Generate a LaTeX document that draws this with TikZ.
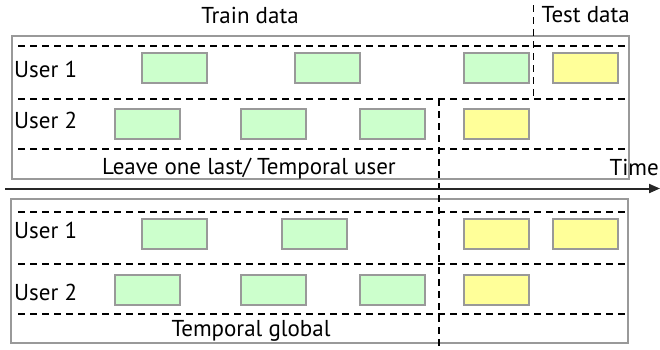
\documentclass[tikz,border=0pt]{standalone}
\usepackage{fontspec}
\setmainfont{PT Sans}
\usetikzlibrary{arrows.meta}
\definecolor{boxgreen}{HTML}{CCFFCC}
\definecolor{boxyellow}{HTML}{FFFF99}
\definecolor{edgegray}{HTML}{999999}
\begin{document}
\begin{tikzpicture}[x=1pt,y=-1pt,
  trainbox/.style={draw=edgegray,line width=1.2pt,fill=boxgreen,minimum width=65pt,minimum height=30pt,inner sep=0pt},
  testbox/.style={trainbox,fill=boxyellow},
  panel/.style={draw=edgegray,line width=1.2pt},
  rowsep/.style={dashed,dash pattern=on 7pt off 5pt,line width=1.3pt},
  txt/.style={inner sep=0pt,font=\fontsize{23}{27}\selectfont},
]
\useasboundingbox (0,0) rectangle (660,349);
% panels
\draw[panel] (12,36) rectangle (629,179);
\draw[panel] (11,199) rectangle (628,343);
% row separators
\foreach \yy in {46,99,149} \draw[rowsep] (18,\yy) -- (629,\yy);
\foreach \yy in {212,264,314} \draw[rowsep] (18,\yy) -- (628,\yy);
% vertical splits
\draw[rowsep] (533.5,5) -- (533.5,99);
\draw[rowsep] (439,99) -- (439,349);
% time arrow
\coordinate (tstart) at (5,188.5);
\coordinate (tend) at (660,188.5);
\draw[line width=2pt,draw=black!85,-{Triangle[length=11pt,width=9pt]}] (tstart) -- (tend);
% top panel boxes
\node[trainbox] (a1) at (174.5,68) {};
\node[trainbox] (a2) at (327.5,68) {};
\node[trainbox] (a3) at (496.5,68) {};
\node[testbox]  (a4) at (585.5,68) {};
\node[trainbox] (b1) at (147.5,124) {};
\node[trainbox] (b2) at (273.5,124) {};
\node[trainbox] (b3) at (392.5,124) {};
\node[testbox]  (b4) at (496.5,124) {};
% bottom panel boxes
\node[trainbox] (c1) at (174.5,234) {};
\node[trainbox] (c2) at (314.5,234) {};
\node[testbox]  (c3) at (496.5,234) {};
\node[testbox]  (c4) at (585.5,234) {};
\node[trainbox] (d1) at (147.5,290) {};
\node[trainbox] (d2) at (273.5,290) {};
\node[trainbox] (d3) at (392.5,290) {};
\node[testbox]  (d4) at (496.5,290) {};
% labels
\node[txt,anchor=base] (ltrain) at (250,23) {Train data};
\node[txt,anchor=base east] (ltest) at (630,22) {Test data};
\node[txt,anchor=base west] (lu1) at (14,77) {User 1};
\node[txt,anchor=base west] (lu2) at (14,128) {User 2};
\node[txt,anchor=base] (lleave) at (249,174) {Leave one last/ Temporal user};
\node[txt,anchor=base east] (ltime) at (659,175) {Time};
\node[txt,anchor=base west] (lu3) at (14,238) {User 1};
\node[txt,anchor=base west] (lu4) at (14,300) {User 2};
\node[txt,anchor=base] (lglob) at (251,336) {Temporal global};
\end{tikzpicture}
\end{document}
